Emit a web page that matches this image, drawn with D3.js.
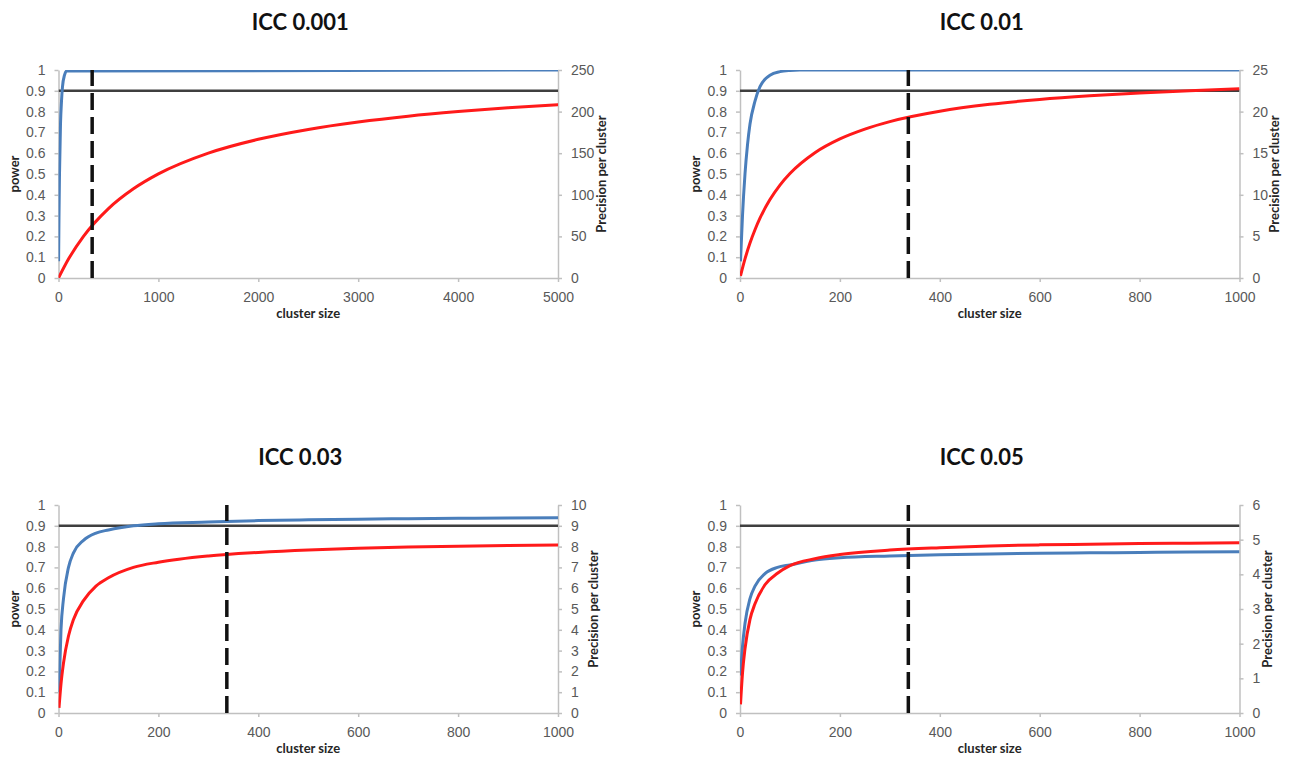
<!DOCTYPE html>
<html>
<head>
<meta charset="utf-8">
<script src="https://cdn.jsdelivr.net/npm/d3@7/dist/d3.min.js"></script>
<style>
  body { margin: 0; background: #fff; }
  svg { display: block; font-family: Lato, "Open Sans", sans-serif; }
  .tick text { fill: #595959; font-size: 14px; }
  .axis path, .axis line { stroke: #c0c0c0; stroke-width: 1.5px; }
  .axis-title { fill: #262626; font-size: 13px; font-weight: bold; }
  .panel-title { fill: #111; font-size: 22px; font-weight: bold; }
</style>
</head>
<body>
<svg id="chart"></svg>
<script>
(function() {

// ---- data ----
var panelTitles = ["ICC 0.001", "ICC 0.01", "ICC 0.03", "ICC 0.05"];
var powerTarget = 0.9;        // horizontal reference line
var chosenClusterSize = 337;  // dashed vertical line

var powerTicks = [0, 0.1, 0.2, 0.3, 0.4, 0.5, 0.6, 0.7, 0.8, 0.9, 1];
var sizeTicksWide = [0, 1000, 2000, 3000, 4000, 5000];
var sizeTicks = [0, 200, 400, 600, 800, 1000];
var precisionTicks001 = [0, 50, 100, 150, 200, 250];
var precisionTicks01 = [0, 5, 10, 15, 20, 25];
var precisionTicks03 = [0, 1, 2, 3, 4, 5, 6, 7, 8, 9, 10];
var precisionTicks05 = [0, 1, 2, 3, 4, 5, 6];

// ICC 0.001
var sizePower001 = [1, 5, 10, 20, 30, 40, 60, 80, 5000];
var power001 = [0.08, 0.3, 0.5, 0.74, 0.85, 0.92, 0.975, 0.995, 1];
var sizePrec001 = [1, 100, 250, 500, 750, 1000, 1500, 2000, 2500, 3000, 3500, 4000, 4500, 5000];
var precision001 = [0.25, 22.7, 50, 83.4, 107.2, 125.1, 150.1, 166.7, 178.6, 187.5, 194.5, 200, 204.6, 208.4];

// ICC 0.01
var sizePower01 = [1, 5, 10, 15, 20, 30, 40, 50, 60, 80, 100, 120, 150, 1000];
var power01 = [0.08, 0.3, 0.5, 0.64, 0.74, 0.85, 0.92, 0.955, 0.975, 0.992, 0.998, 1, 1, 1];
var sizePrec01 = [1, 10, 20, 30, 40, 60, 80, 100, 150, 200, 250, 300, 400, 500, 600, 700, 800, 900, 1000];
var precision01 = [0.25, 2.29, 4.2, 5.8, 7.19, 9.43, 11.17, 12.56, 15.06, 16.72, 17.9, 18.8, 20.04, 20.87, 21.46, 21.9, 22.25, 22.52, 22.75];

// ICC 0.03
var size03 = [1, 5, 10, 20, 30, 50, 75, 100, 150, 200, 300, 400, 500, 600, 700, 800, 900, 1000];
var power03 = [0.1, 0.4, 0.55, 0.7, 0.77, 0.83, 0.865, 0.88, 0.9, 0.91, 0.918, 0.925, 0.929, 0.932, 0.934, 0.936, 0.938, 0.939];
var precision03 = [0.25, 1.4, 2.4, 3.7, 4.5, 5.4, 6.1, 6.5, 7.0, 7.25, 7.55, 7.72, 7.84, 7.92, 7.98, 8.02, 8.05, 8.08];

// ICC 0.05
var size05 = [1, 5, 10, 20, 30, 50, 75, 100, 150, 200, 300, 400, 500, 600, 700, 800, 900, 1000];
var power05 = [0.18, 0.32, 0.43, 0.55, 0.61, 0.67, 0.7, 0.712, 0.735, 0.746, 0.755, 0.761, 0.765, 0.768, 0.77, 0.772, 0.774, 0.775];
var precision05 = [0.25, 1.15, 1.85, 2.7, 3.15, 3.7, 4.03, 4.25, 4.45, 4.57, 4.70, 4.77, 4.82, 4.85, 4.87, 4.89, 4.90, 4.91];

function zip(xs, ys) {
  return xs.map(function(x, i) { return {x: x, y: ys[i]}; });
}

var panels = [
  {title: panelTitles[0], xMax: 5000, xTicks: sizeTicksWide, pTicks: precisionTicks001,
   power: zip(sizePower001, power001), prec: zip(sizePrec001, precision001)},
  {title: panelTitles[1], xMax: 1000, xTicks: sizeTicks, pTicks: precisionTicks01,
   power: zip(sizePower01, power01), prec: zip(sizePrec01, precision01)},
  {title: panelTitles[2], xMax: 1000, xTicks: sizeTicks, pTicks: precisionTicks03,
   power: zip(size03, power03), prec: zip(size03, precision03)},
  {title: panelTitles[3], xMax: 1000, xTicks: sizeTicks, pTicks: precisionTicks05,
   power: zip(size05, power05), prec: zip(size05, precision05)}
];

// ---- layout ----
var W = 1294, H = 757;
var colLeft = [58.5, 740], plotW = 499.5;
var rowTop = [70, 505], plotH = 208;
var fmt = d3.format("~g");

var svg = d3.select("#chart").attr("width", W).attr("height", H);
svg.append("rect").attr("width", W).attr("height", H).attr("fill", "#fff");

panels.forEach(function(p, i) {
  var left = colLeft[i % 2], top = rowTop[Math.floor(i / 2)];
  var g = svg.append("g").attr("transform", "translate(" + left + "," + top + ")");

  var x = d3.scaleLinear().domain([0, p.xMax]).range([0, plotW]);
  var yPow = d3.scaleLinear().domain([0, 1]).range([plotH, 0]);
  var yPrec = d3.scaleLinear().domain([0, p.pTicks[p.pTicks.length - 1]]).range([plotH, 0]);

  var clipId = "clip" + i;
  g.append("clipPath").attr("id", clipId)
    .append("rect").attr("width", plotW).attr("height", plotH);

  // axes
  g.append("g").attr("class", "axis")
    .call(d3.axisLeft(yPow).tickValues(powerTicks).tickFormat(fmt)
      .tickSize(4).tickSizeOuter(0).tickPadding(9));
  var yAxisR = g.append("g").attr("class", "axis")
    .attr("transform", "translate(" + plotW + ",0)")
    .call(d3.axisRight(yPrec).tickValues(p.pTicks).tickFormat(fmt)
      .tickSize(4).tickSizeOuter(0).tickPadding(9));
  g.append("g").attr("class", "axis")
    .attr("transform", "translate(0," + plotH + ")")
    .call(d3.axisBottom(x).tickValues(p.xTicks).tickFormat(d3.format("d"))
      .tickSize(4).tickSizeOuter(0).tickPadding(10));

  // axis titles
  g.append("text").attr("class", "axis-title")
    .attr("text-anchor", "middle")
    .attr("x", plotW / 2).attr("y", plotH + 40)
    .text("cluster size");

  g.append("text").attr("class", "axis-title")
    .attr("text-anchor", "middle")
    .attr("transform", "translate(-40," + (plotH / 2) + ") rotate(-90)")
    .text("power");

  var rw = d3.max(yAxisR.selectAll(".tick text").nodes(), function(n) { return n.getBBox().width; });
  g.append("text").attr("class", "axis-title")
    .attr("text-anchor", "middle")
    .attr("transform", "translate(" + (plotW + 13 + rw + 11) + "," + (plotH / 2) + ") rotate(-90)")
    .text("Precision per cluster");

  // title
  g.append("text").attr("class", "panel-title")
    .attr("text-anchor", "middle")
    .attr("x", plotW / 2 - 8).attr("y", -40)
    .text(p.title);

  var plot = g.append("g").attr("clip-path", "url(#" + clipId + ")");

  // target power line
  plot.append("line")
    .attr("x1", 0).attr("x2", plotW)
    .attr("y1", yPow(powerTarget)).attr("y2", yPow(powerTarget))
    .attr("stroke", "#3f3f3f").attr("stroke-width", 2.5);

  var linePow = d3.line().curve(d3.curveMonotoneX)
    .x(function(d) { return x(d.x); })
    .y(function(d) { return yPow(d.y); });
  var linePrec = d3.line().curve(d3.curveMonotoneX)
    .x(function(d) { return x(d.x); })
    .y(function(d) { return yPrec(d.y); });

  plot.append("path").datum(p.power)
    .attr("d", linePow)
    .attr("fill", "none").attr("stroke", "#4a7ebb").attr("stroke-width", 3);

  plot.append("path").datum(p.prec)
    .attr("d", linePrec)
    .attr("fill", "none").attr("stroke", "#ff1a1a").attr("stroke-width", 3);

  // chosen cluster size
  plot.append("line")
    .attr("x1", x(chosenClusterSize)).attr("x2", x(chosenClusterSize))
    .attr("y1", yPow(0)).attr("y2", yPow(1))
    .attr("stroke", "#111").attr("stroke-width", 3.5)
    .attr("stroke-dasharray", "17,7");
});

})();
</script>
</body>
</html>
